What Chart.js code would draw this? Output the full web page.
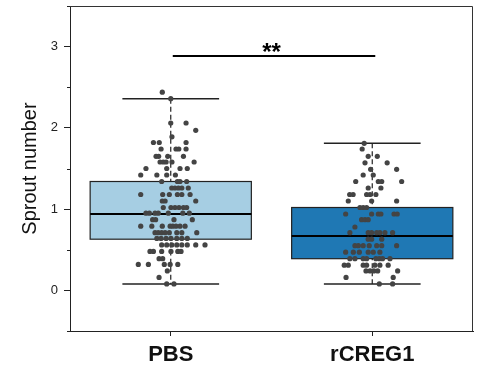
<!DOCTYPE html>
<html lang="en">
<head>
<meta charset="UTF-8">
<title>Sprout number</title>
<script src="https://cdn.jsdelivr.net/npm/chart.js"></script>
<style>
    html, body { margin: 0; padding: 0; background: #fff; }
    #wrap { width: 477px; height: 369px; }
</style>
</head>
<body>
<div id="wrap"><canvas id="boxChart" width="477" height="369"></canvas></div>

<script>
// groups and box stats
var categories = ['PBS', 'rCREG1'];
var boxColors = ['#a6cee3', '#1f78b4'];
var whiskerLow = [0.08, 0.08];
var boxQ1 = [0.63, 0.39];
var boxMedian = [0.94, 0.67];
var boxQ3 = [1.34, 1.02];
var whiskerHigh = [2.36, 1.81];

var yTicks = [0, 1, 2, 3];
var sigLabel = '**';
var sigHeight = 2.885;

// individual points: jitter offset from the group centre + value
var pbsJitter = [
    -0.042, 0.0, 0.0, 0.076, 0.124, 0.006, -0.086, -0.057, 0.076, -0.048, 0.026, 0.04, 0.076,
    -0.073, -0.06, -0.015, 0.063, -0.053, -0.037, -0.023, 0.006, 0.116, -0.123, -0.02, 0.046, 0.082,
    -0.149, -0.069, -0.02, 0.023, -0.045, 0.033, 0.046, 0.079, 0.005, 0.021, 0.038, 0.055, 0.087,
    -0.149, -0.04, -0.007, 0.033, 0.055, 0.096, -0.042, -0.028, 0.124, -0.037, 0.001, 0.021, 0.041, 0.063, 0.079,
    -0.123, -0.106, -0.078, -0.062, -0.012, 0.06, 0.092, -0.09, -0.075, 0.016, 0.107,
    -0.149, -0.094, -0.042, -0.003, 0.01, 0.026, 0.046, 0.071,
    -0.078, -0.062, -0.045, -0.028, -0.007, 0.03, 0.055, 0.129,
    -0.069, -0.048, -0.023, 0.001, 0.03, 0.055, 0.082,
    -0.045, -0.02, 0.005, 0.03, 0.055, 0.082, 0.124, 0.17,
    -0.103, -0.086, -0.045, 0.001, 0.035, 0.051, -0.058, -0.04,
    -0.161, -0.111, -0.032, -0.003, 0.035, -0.017, -0.058, -0.02, 0.016
];
var pbsValues = [
    2.44, 2.36, 2.06, 2.06, 1.97, 1.89, 1.82, 1.82, 1.82, 1.74, 1.74, 1.74, 1.74,
    1.65, 1.65, 1.65, 1.65, 1.58, 1.58, 1.58, 1.58, 1.58, 1.50, 1.50, 1.50, 1.50,
    1.42, 1.42, 1.42, 1.42, 1.34, 1.34, 1.34, 1.34, 1.26, 1.26, 1.26, 1.26, 1.26,
    1.18, 1.18, 1.18, 1.18, 1.18, 1.18, 1.10, 1.10, 1.10, 1.02, 1.02, 1.02, 1.02, 1.02, 1.02,
    0.95, 0.95, 0.95, 0.95, 0.95, 0.95, 0.95, 0.87, 0.87, 0.87, 0.87,
    0.79, 0.79, 0.79, 0.79, 0.79, 0.79, 0.79, 0.79,
    0.71, 0.71, 0.71, 0.71, 0.71, 0.71, 0.71, 0.71,
    0.64, 0.64, 0.64, 0.64, 0.64, 0.64, 0.64,
    0.56, 0.56, 0.56, 0.56, 0.56, 0.56, 0.56, 0.56,
    0.48, 0.48, 0.48, 0.48, 0.48, 0.48, 0.39, 0.39,
    0.32, 0.32, 0.32, 0.32, 0.32, 0.24, 0.16, 0.08, 0.08
];

var cregJitter = [
    -0.04, -0.05, -0.02, 0.025, -0.036, 0.074, -0.008, 0.121, -0.045, 0.005,
    -0.082, 0.03, 0.047, 0.146, 0.043, -0.02, -0.112, -0.095, -0.028, -0.011, 0.018,
    -0.119, -0.003, 0.121, -0.061, -0.045, -0.028,
    -0.132, -0.003, 0.03, 0.043, 0.108, 0.124, -0.053, -0.036, -0.02, -0.086,
    -0.111, -0.02, -0.003, 0.022, 0.038, 0.063, 0.101, -0.02, -0.003, 0.047,
    -0.086, -0.069, -0.045, -0.015, 0.022, 0.047, 0.121,
    -0.132, -0.094, -0.064, -0.02, 0.005, 0.038,
    -0.111, -0.086, -0.045, -0.028, 0.018, 0.035, 0.051, 0.088,
    -0.139, -0.119, -0.045, -0.028, 0.013, 0.038, 0.079,
    -0.031, -0.011, 0.008, 0.027, 0.126, -0.13, 0.104, 0.035, 0.101
];
var cregValues = [
    1.81, 1.74, 1.65, 1.65, 1.57, 1.57, 1.49, 1.49, 1.42, 1.42,
    1.34, 1.34, 1.34, 1.34, 1.26, 1.26, 1.18, 1.18, 1.18, 1.18, 1.18,
    1.10, 1.10, 1.10, 1.02, 1.02, 1.02,
    0.94, 0.94, 0.94, 0.94, 0.94, 0.94, 0.87, 0.87, 0.87, 0.78,
    0.71, 0.71, 0.71, 0.71, 0.71, 0.71, 0.71, 0.63, 0.63, 0.63,
    0.55, 0.55, 0.55, 0.55, 0.55, 0.55, 0.55,
    0.47, 0.47, 0.47, 0.47, 0.47, 0.47,
    0.39, 0.39, 0.39, 0.39, 0.39, 0.39, 0.39, 0.39,
    0.31, 0.31, 0.31, 0.31, 0.31, 0.31, 0.31,
    0.24, 0.24, 0.24, 0.24, 0.24, 0.16, 0.16, 0.08, 0.08
];

var FONT = '"Liberation Sans", Arial, sans-serif';
var BOX_HALF = 0.4;
var CAP_HALF = 0.24;

function toPoints(center, jit, vals) {
    var pts = [];
    for (var i = 0; i < vals.length; i++) {
        pts.push({ x: center + jit[i], y: vals[i] });
    }
    return pts;
}

// no label-driven padding, so the plot box lands where the original has it
function noPad(s) {
    s.paddingTop = 0;
    s.paddingBottom = 0;
    s.paddingLeft = 0;
    s.paddingRight = 0;
}

// boxes, whiskers, frame, minor ticks and the significance bar
var boxPlugin = {
    id: 'boxPlugin',
    beforeDatasetsDraw: function (chart) {
        var ctx = chart.ctx;
        var xs = chart.scales.x, ys = chart.scales.y;
        ctx.save();
        for (var i = 0; i < categories.length; i++) {
            var c = i + 1;
            var xc = xs.getPixelForValue(c);
            // dashed whisker line
            ctx.strokeStyle = '#222';
            ctx.lineWidth = 1.2;
            ctx.setLineDash([5, 3]);
            ctx.beginPath();
            ctx.moveTo(xc, ys.getPixelForValue(whiskerHigh[i]));
            ctx.lineTo(xc, ys.getPixelForValue(whiskerLow[i]));
            ctx.stroke();
            ctx.setLineDash([]);
            // caps
            ctx.lineWidth = 1.5;
            [whiskerHigh[i], whiskerLow[i]].forEach(function (v) {
                var yy = ys.getPixelForValue(v);
                ctx.beginPath();
                ctx.moveTo(xs.getPixelForValue(c - CAP_HALF), yy);
                ctx.lineTo(xs.getPixelForValue(c + CAP_HALF), yy);
                ctx.stroke();
            });
            // box
            var x0 = xs.getPixelForValue(c - BOX_HALF);
            var x1 = xs.getPixelForValue(c + BOX_HALF);
            var yTop = ys.getPixelForValue(boxQ3[i]);
            var yBot = ys.getPixelForValue(boxQ1[i]);
            ctx.fillStyle = boxColors[i];
            ctx.fillRect(x0, yTop, x1 - x0, yBot - yTop);
            ctx.strokeStyle = '#222';
            ctx.lineWidth = 1.2;
            ctx.strokeRect(x0, yTop, x1 - x0, yBot - yTop);
            // median
            var ym = ys.getPixelForValue(boxMedian[i]);
            ctx.strokeStyle = '#000';
            ctx.lineWidth = 2;
            ctx.beginPath();
            ctx.moveTo(x0, ym);
            ctx.lineTo(x1, ym);
            ctx.stroke();
        }
        ctx.restore();
    },
    afterDraw: function (chart) {
        var ctx = chart.ctx;
        var a = chart.chartArea;
        var xs = chart.scales.x, ys = chart.scales.y;
        ctx.save();
        // frame top + right
        ctx.strokeStyle = '#333';
        ctx.lineWidth = 1;
        ctx.beginPath();
        ctx.moveTo(a.left, a.top + 0.5);
        ctx.lineTo(a.right - 0.5, a.top + 0.5);
        ctx.lineTo(a.right - 0.5, a.bottom);
        ctx.stroke();
        // minor ticks
        ctx.strokeStyle = '#222';
        for (var v = -0.5; v <= 3.5; v += 1) {
            var yy = Math.round(ys.getPixelForValue(v)) + 0.5;
            ctx.beginPath();
            ctx.moveTo(a.left - 3, yy);
            ctx.lineTo(a.left, yy);
            ctx.stroke();
        }
        // significance bar
        var ySig = ys.getPixelForValue(sigHeight);
        ctx.strokeStyle = '#000';
        ctx.lineWidth = 2;
        ctx.beginPath();
        ctx.moveTo(xs.getPixelForValue(1.01), ySig);
        ctx.lineTo(xs.getPixelForValue(2.015), ySig);
        ctx.stroke();
        ctx.fillStyle = '#000';
        ctx.font = 'bold 24px ' + FONT;
        ctx.textAlign = 'center';
        ctx.textBaseline = 'alphabetic';
        ctx.fillText(sigLabel, xs.getPixelForValue(1.5), ySig + 4);
        ctx.restore();
    }
};

var config = {
    type: 'scatter',
    data: {
        datasets: [
            {
                label: categories[0],
                data: toPoints(1, pbsJitter, pbsValues),
                pointRadius: 2.6,
                pointBackgroundColor: '#444',
                pointBorderWidth: 0
            },
            {
                label: categories[1],
                data: toPoints(2, cregJitter, cregValues),
                pointRadius: 2.6,
                pointBackgroundColor: '#444',
                pointBorderWidth: 0
            }
        ]
    },
    options: {
        responsive: false,
        animation: false,
        layout: { padding: { top: 6, right: 4, left: 0, bottom: 0 } },
        plugins: {
            legend: { display: false },
            tooltip: { enabled: false }
        },
        scales: {
            x: {
                type: 'linear',
                min: 0.5,
                max: 2.5,
                afterBuildTicks: function (s) {
                    s.ticks = [{ value: 1 }, { value: 2 }];
                },
                afterFit: function (s) { s.height = 38; noPad(s); },
                ticks: {
                    padding: 6,
                    color: '#111',
                    font: { family: FONT, size: 22, weight: 'bold' },
                    callback: function (v) { return categories[v - 1]; }
                },
                grid: { drawOnChartArea: false, tickLength: 5, tickColor: '#222' },
                border: { color: '#222', width: 1 }
            },
            y: {
                min: -0.5,
                max: 3.5,
                afterBuildTicks: function (s) {
                    s.ticks = yTicks.map(function (t) { return { value: t }; });
                },
                afterFit: function (s) { s.width = 70; noPad(s); },
                ticks: {
                    padding: 6,
                    color: '#222',
                    font: { family: FONT, size: 13 }
                },
                title: {
                    display: true,
                    text: 'Sprout number',
                    color: '#111',
                    padding: { top: 18, bottom: 0 },
                    font: { family: FONT, size: 20 }
                },
                grid: { drawOnChartArea: false, tickLength: 6, tickColor: '#222' },
                border: { color: '#222', width: 1 }
            }
        }
    },
    plugins: [boxPlugin]
};

new Chart(document.getElementById('boxChart').getContext('2d'), config);
</script>
</body>
</html>
